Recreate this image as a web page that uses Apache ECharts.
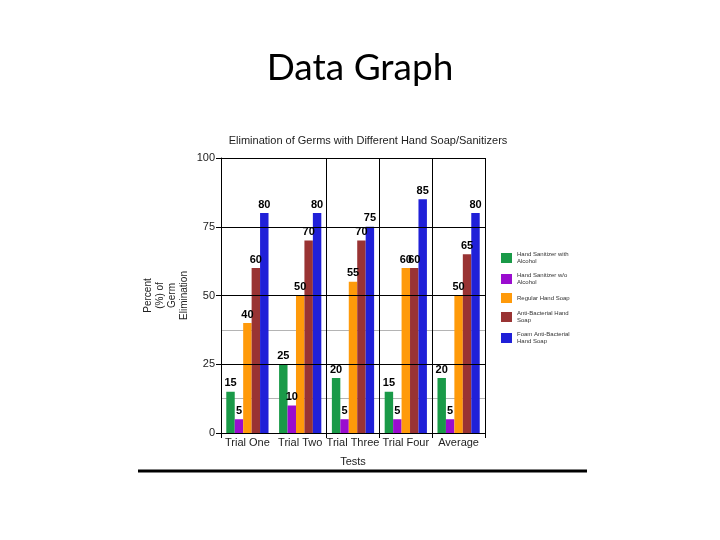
<!DOCTYPE html>
<html><head><meta charset="utf-8">
<script src="https://cdn.jsdelivr.net/npm/echarts@6/dist/echarts.min.js"></script>
<style>html,body{margin:0;padding:0;background:#fff}#c{width:720px;height:540px}</style>
</head><body><div id="c"></div>
<script>
const categories = ['Trial One', 'Trial Two', 'Trial Three', 'Trial Four', 'Average'];
const seriesNames = ['Hand Sanitizer with Alcohol', 'Hand Sanitizer w/o Alcohol', 'Regular Hand Soap', 'Anti-Bacterial Hand Soap', 'Foam Anti-Bacterial Hand Soap'];
const legendLabels = ['Hand Sanitizer with\nAlcohol', 'Hand Sanitizer w/o\nAlcohol', 'Regular Hand Soap', 'Anti-Bacterial Hand\nSoap', 'Foam Anti-Bacterial\nHand Soap'];
const withAlcohol = [15, 25, 20, 15, 20];
const withoutAlcohol = [5, 10, 5, 5, 5];
const regularSoap = [40, 50, 55, 60, 50];
const antiBacterial = [60, 70, 70, 60, 65];
const foamAntiBacterial = [80, 80, 75, 85, 80];
const minorLevels = ['0', '12.5', '25', '37.5', '50', '62.5', '75', '87.5', '100'];
const minorShown = ['12.5', '37.5'];
const colors = ['#1a9a48', '#9a0ccf', '#ff9a0a', '#993333', '#2020d8'];

const values = [withAlcohol, withoutAlcohol, regularSoap, antiBacterial, foamAntiBacterial];
const chart = echarts.init(document.getElementById('c'));
const series = values.map((v, i) => ({
  name: seriesNames[i], type: 'bar', data: v, barGap: '0%', barCategoryGap: '20%',
  yAxisIndex: 0,
  itemStyle: { color: colors[i] },
  label: { show: true, position: 'top', distance: 3, color: '#000', fontSize: 11, fontWeight: 'bold', fontFamily: 'Liberation Sans' }
}));
chart.setOption({
  animation: false,
  color: colors,
  title: [
    { text: 'Data Graph', left: 'center', top: 45, textStyle: { fontFamily: 'Lato', fontWeight: 'normal', fontSize: 37, color: '#000' } },
    { text: 'Elimination of Germs with Different Hand Soap/Sanitizers', left: 363, textAlign: 'center', top: 130, textStyle: { fontFamily: 'Liberation Sans', fontWeight: 'normal', fontSize: 11, color: '#222' } }
  ],
  legend: {
    orient: 'vertical', left: 496, top: 246, itemWidth: 11, itemHeight: 10, itemGap: 7,
    icon: 'rect',
    formatter: (n) => legendLabels[seriesNames.indexOf(n)],
    textStyle: { fontSize: 6, color: '#333', fontFamily: 'Liberation Sans', lineHeight: 7 },
    data: seriesNames
  },
  grid: { left: 221, right: 235, top: 158, bottom: 107 },
  xAxis: {
    type: 'category', data: categories,
    name: 'Tests', nameLocation: 'middle', nameGap: 23,
    nameTextStyle: { fontSize: 11, color: '#222', fontFamily: 'Liberation Sans' },
    axisLine: { lineStyle: { color: '#000', width: 1 } },
    axisTick: { show: true, length: 5, interval: (i) => i !== 1, lineStyle: { color: '#000' } },
    axisLabel: { fontSize: 11, color: '#222', margin: 4, fontFamily: 'Liberation Sans', interval: 0 },
    splitLine: { show: true, interval: (i) => i !== 1, lineStyle: { color: '#000', width: 1 } }
  },
  yAxis: [{
    type: 'value', min: 0, max: 100, interval: 25, z: 3,
    name: 'Percent\n(%) of\nGerm\nElimination', nameLocation: 'middle', nameGap: 31, nameRotate: 90,
    nameTextStyle: { fontSize: 10, color: '#222', fontFamily: 'Liberation Sans', lineHeight: 12, align: 'center' },
    axisLine: { show: true, lineStyle: { color: '#000' } },
    axisTick: { show: true, length: 5, lineStyle: { color: '#000' } },
    axisLabel: { fontSize: 11, color: '#222', margin: 6, fontFamily: 'Liberation Sans' },
    splitLine: { show: true, lineStyle: { color: '#000', width: 1 } }
  }, {
    type: 'category', data: minorLevels, boundaryGap: false, position: 'left', z: 0,
    axisLine: { show: false }, axisTick: { show: false }, axisLabel: { show: false },
    splitLine: { show: true, interval: (i, v) => minorShown.indexOf(v) >= 0, lineStyle: { color: '#b4b4b4', width: 1 } }
  }],
  graphic: [
    { type: 'line', shape: { x1: 138, y1: 471, x2: 587, y2: 471 }, style: { stroke: '#000', lineWidth: 3 } }
  ],
  series: series
});
</script></body></html>
